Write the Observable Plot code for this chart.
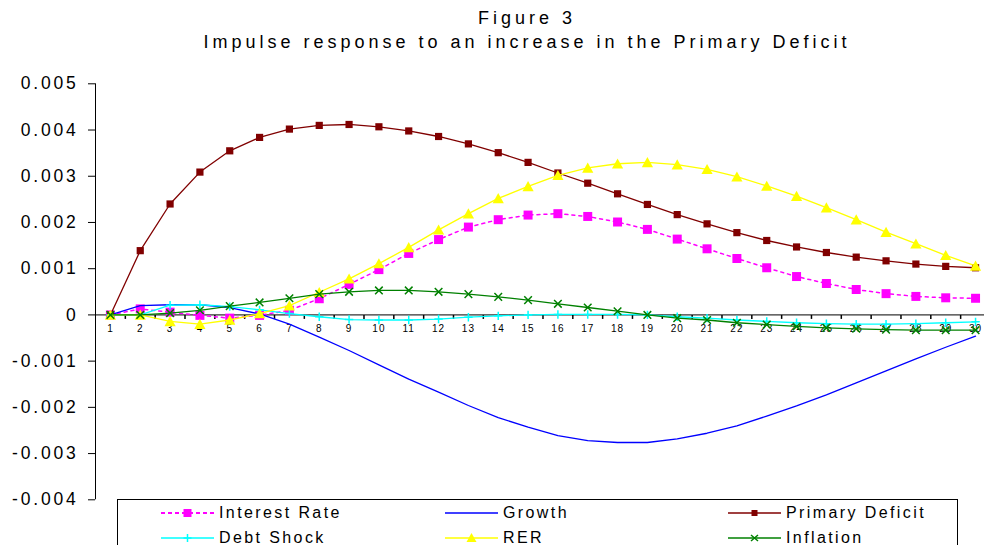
<!DOCTYPE html>
<html><head><meta charset="utf-8">
<script src="https://cdn.jsdelivr.net/npm/d3@7"></script>
<script src="https://cdn.jsdelivr.net/npm/@observablehq/plot@0.6"></script>
<style>
html,body{margin:0;padding:0;background:#fff}
body{width:984px;height:545px;overflow:hidden;position:relative;font-family:"Liberation Sans",Arial,sans-serif;color:#000}
#title{position:absolute;left:70px;width:914px;top:6px;text-align:center;font-size:18px;letter-spacing:4.0px;line-height:24px}
#chart{position:absolute;left:0;top:60px}
#legend{position:absolute;left:117px;top:499px;width:841px;height:60px;border:1px solid #000;box-sizing:border-box;background:#fff}
.li{position:absolute;height:20px;display:flex;align-items:center}
.li span{font-size:16px;letter-spacing:2.4px;margin-left:5px;white-space:nowrap}
g[aria-label="y-axis tick label"] text{letter-spacing:2.8px}
g[aria-label="text"] text{letter-spacing:1px}
</style>
</head><body>
<div id="title">Figure 3<br>Impulse response to an increase in the Primary Deficit</div>
<div id="chart"></div>
<div id="legend"></div>
<script>
const periods = [1,2,3,4,5,6,7,8,9,10,11,12,13,14,15,16,17,18,19,20,21,22,23,24,25,26,27,28,29,30];
const interestRate = [0,0.00013,0.00006,-0.00001,-0.00007,-0.00001,0.0001,0.00035,0.00066,0.00098,0.00133,0.00163,0.0019,0.00206,0.00216,0.00219,0.00213,0.00201,0.00185,0.00164,0.00143,0.00122,0.00102,0.00083,0.00068,0.00055,0.00046,0.0004,0.00037,0.00036];
const growth = [0,0.0002,0.00022,0.00022,0.00016,0.00002,-0.0002,-0.00048,-0.00077,-0.00108,-0.00139,-0.00167,-0.00196,-0.00222,-0.00243,-0.00261,-0.00272,-0.00276,-0.00276,-0.00268,-0.00256,-0.0024,-0.00219,-0.00197,-0.00173,-0.00147,-0.00121,-0.00095,-0.0007,-0.00046];
const primaryDeficit = [0,0.00139,0.0024,0.00309,0.00355,0.00384,0.00402,0.0041,0.00412,0.00407,0.00398,0.00386,0.0037,0.00351,0.0033,0.00307,0.00285,0.00262,0.00239,0.00217,0.00197,0.00178,0.00161,0.00147,0.00135,0.00125,0.00117,0.0011,0.00105,0.00102];
const debtShock = [0,0,0.00021,0.00022,0.00018,0.00011,0.00003,-0.00004,-0.0001,-0.00011,-0.00011,-0.00009,-0.00005,-0.00002,0,0.00001,0.00001,0.00001,0,-0.00004,-0.00007,-0.00011,-0.00014,-0.00017,-0.00019,-0.0002,-0.0002,-0.00019,-0.00017,-0.00015];
const rer = [0,0,-0.00014,-0.0002,-0.00011,0.00003,0.0002,0.00049,0.00078,0.00111,0.00146,0.00184,0.00219,0.00252,0.00278,0.00302,0.00318,0.00327,0.0033,0.00325,0.00315,0.00299,0.00279,0.00257,0.00232,0.00206,0.00179,0.00154,0.00129,0.00106];
const inflation = [0,0,0.00004,0.0001,0.00019,0.00027,0.00036,0.00045,0.0005,0.00053,0.00053,0.0005,0.00045,0.00039,0.00032,0.00024,0.00016,0.00008,0,-0.00007,-0.00011,-0.00017,-0.00021,-0.00025,-0.00028,-0.0003,-0.00032,-0.00033,-0.00033,-0.00033];
const yTicks = [-0.004,-0.003,-0.002,-0.001,0,0.001,0.002,0.003,0.004,0.005];
const seriesNames = ["Interest Rate","Growth","Primary Deficit","Debt Shock","RER","Inflation"];
const seriesColors = ["#FF00FF","#0000FF","#800000","#00FFFF","#FFFF00","#008000"];

const rowsOf = (vals) => periods.map((p,i) => ({p, v: vals[i]}));
const R = (size) => Math.sqrt(size/Math.PI);
const sq = {draw(c,s){const r=R(s); c.rect(-r,-r,2*r,2*r);}};
const tri = {draw(c,s){const r=R(s); c.moveTo(0,-r*0.95); c.lineTo(r,r*0.85); c.lineTo(-r,r*0.85); c.closePath();}};
const plus = {draw(c,s){const r=R(s); c.moveTo(-r,0); c.lineTo(r,0); c.moveTo(0,-r); c.lineTo(0,r);}};
const times = {draw(c,s){const r=R(s); c.moveTo(-r,-r); c.lineTo(r,r); c.moveTo(-r,r); c.lineTo(r,-r);}};
const tickDown = {draw(c,s){const r=R(s); c.moveTo(0,0); c.lineTo(0,r);}};
const edges = periods.map(p => p + 0.5);

const line = (vals, i, extra={}) => Plot.line(rowsOf(vals), {x:"p", y:"v", stroke: seriesColors[i], strokeWidth: 1.3, ...extra});

const chart = Plot.plot({
  width: 984, height: 485,
  marginLeft: 95, marginRight: 0, marginTop: 23.3, marginBottom: 45.7,
  style: {fontFamily: "Liberation Sans, Arial, sans-serif", background: "transparent", color: "#000"},
  x: {type: "linear", domain: [0.5, 30.3], axis: null},
  y: {domain: [-0.004, 0.005], label: null},
  marks: [
    Plot.ruleY([0], {stroke: "#000", strokeWidth: 1}),
    Plot.dot(edges, {x: d => d, y: 0, symbol: tickDown, r: 4, stroke: "#000", fill: "none"}),
    Plot.text(periods, {x: d => d, y: 0, text: d => String(d), dy: 14, fontSize: 10, fill: "#000"}),
    Plot.ruleX([0.5], {y1: -0.004, y2: 0.005, stroke: "#000"}),
    Plot.axisY({ticks: yTicks, label: null, tickSize: 7, tickPadding: 10, fontSize: 17.5, tickFormat: d => d === 0 ? "0" : d.toFixed(3)}),
    line(interestRate, 0, {strokeDasharray: "3,4", strokeWidth: 1.5}),
    Plot.dot(rowsOf(interestRate), {x:"p", y:"v", symbol: sq, r: 4.5, fill: seriesColors[0], stroke: "none"}),
    line(growth, 1),
    line(primaryDeficit, 2),
    Plot.dot(rowsOf(primaryDeficit), {x:"p", y:"v", symbol: sq, r: 3.6, fill: seriesColors[2], stroke: "none"}),
    line(debtShock, 3),
    Plot.dot(rowsOf(debtShock), {x:"p", y:"v", symbol: plus, r: 4.2, fill: "none", stroke: seriesColors[3], strokeWidth: 1.5}),
    line(rer, 4),
    Plot.dot(rowsOf(rer), {x:"p", y:"v", symbol: tri, r: 5.6, fill: seriesColors[4], stroke: "none"}),
    line(inflation, 5),
    Plot.dot(rowsOf(inflation), {x:"p", y:"v", symbol: times, r: 3.8, fill: "none", stroke: seriesColors[5], strokeWidth: 1.5})
  ]
});
document.getElementById("chart").appendChild(chart);

// legend
const legend = document.getElementById("legend");
const NS = "http://www.w3.org/2000/svg";
const legendPos = [[43,3],[327,3],[610,3],[43,28],[327,28],[610,28]];
const order = [0,1,2,3,4,5];
function swatch(i){
  const s = document.createElementNS(NS,"svg");
  s.setAttribute("width",53); s.setAttribute("height",16);
  const c = seriesColors[i];
  const ln = document.createElementNS(NS,"line");
  ln.setAttribute("x1",0); ln.setAttribute("x2",53); ln.setAttribute("y1",8); ln.setAttribute("y2",8);
  ln.setAttribute("stroke",c); ln.setAttribute("stroke-width", i===0?2:1.3);
  if(i===0) ln.setAttribute("stroke-dasharray","4,3");
  s.appendChild(ln);
  let p = null;
  if(i===0){p=document.createElementNS(NS,"rect");p.setAttribute("x",22.5);p.setAttribute("y",4);p.setAttribute("width",8);p.setAttribute("height",8);p.setAttribute("fill",c);}
  if(i===2){p=document.createElementNS(NS,"rect");p.setAttribute("x",23.5);p.setAttribute("y",5);p.setAttribute("width",6);p.setAttribute("height",6);p.setAttribute("fill",c);}
  if(i===3){p=document.createElementNS(NS,"path");p.setAttribute("d","M22.5,8H30.5M26.5,4V12");p.setAttribute("stroke",c);p.setAttribute("stroke-width",1.5);}
  if(i===4){p=document.createElementNS(NS,"path");p.setAttribute("d","M26.5,3L31.5,12L21.5,12Z");p.setAttribute("fill",c);}
  if(i===5){p=document.createElementNS(NS,"path");p.setAttribute("d","M23,5L30,11M23,11L30,5");p.setAttribute("stroke",c);p.setAttribute("stroke-width",1.5);}
  if(p) s.appendChild(p);
  return s;
}
order.forEach((i,k) => {
  const d = document.createElement("div");
  d.className = "li";
  d.style.left = legendPos[k][0] + "px";
  d.style.top = legendPos[k][1] + "px";
  d.appendChild(swatch(i));
  const t = document.createElement("span");
  t.textContent = seriesNames[i];
  d.appendChild(t);
  legend.appendChild(d);
});
</script>
</body></html>
